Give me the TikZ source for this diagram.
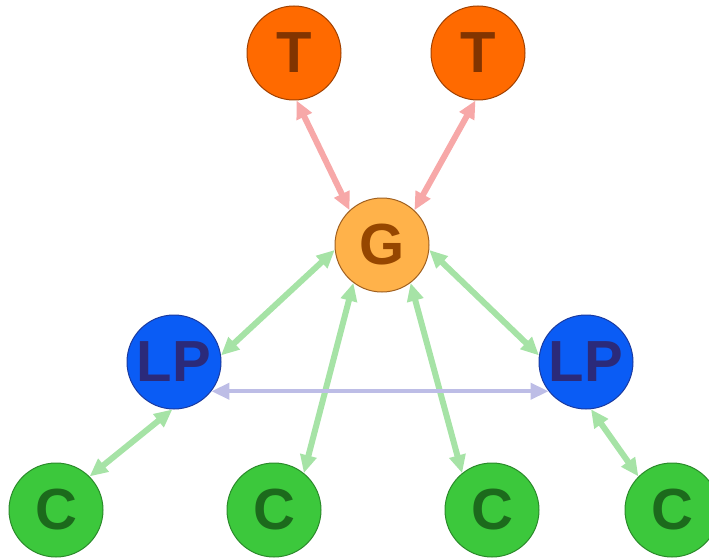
\documentclass[tikz,border=0pt]{standalone}
\usepackage{fontspec}
\setmainfont{Liberation Sans}
\usetikzlibrary{arrows.meta}
\definecolor{torange}{RGB}{255,106,0}
\definecolor{tborder}{RGB}{160,64,0}
\definecolor{ttext}{RGB}{130,52,0}
\definecolor{gorange}{RGB}{255,178,74}
\definecolor{gborder}{RGB}{160,96,32}
\definecolor{gtext}{RGB}{150,70,0}
\definecolor{lpblue}{RGB}{10,92,245}
\definecolor{lpborder}{RGB}{26,58,160}
\definecolor{lptext}{RGB}{43,42,122}
\definecolor{cgreen}{RGB}{60,200,60}
\definecolor{cborder}{RGB}{42,138,42}
\definecolor{ctext}{RGB}{28,106,28}
\definecolor{pinkarr}{RGB}{247,168,168}
\definecolor{greenarr}{RGB}{166,227,166}
\definecolor{lavarr}{RGB}{189,189,230}
\tikzset{
  peer/.style={circle,draw,line width=1pt,minimum size=94pt,inner sep=0pt,
    font=\fontsize{58}{60}\selectfont\bfseries},
  tnode/.style={peer,fill=torange,draw=tborder,text=ttext},
  gnode/.style={peer,fill=gorange,draw=gborder,text=gtext},
  lpnode/.style={peer,fill=lpblue,draw=lpborder,text=lptext},
  cnode/.style={peer,fill=cgreen,draw=cborder,text=ctext},
  link/.style={<->,line width=6pt},
}
\begin{document}
\begin{tikzpicture}[line cap=round,line join=round,>={Triangle[length=18pt,width=16pt]},x=1pt,y=-1pt]
  \useasboundingbox (0,0) rectangle (709,559);
  % nodes
  \node[tnode] (t1) at (294,53) {T};
  \node[tnode] (t2) at (478,53) {T};
  \node[gnode] (g) at (382,245) {G};
  \node[lpnode] (lpl) at (174,362) {LP};
  \node[lpnode] (lpr) at (586,362) {LP};
  \node[cnode] (c1) at (56,510) {C};
  \node[cnode] (c2) at (274,510) {C};
  \node[cnode] (c3) at (492,510) {C};
  \node[cnode] (c4) at (672,510) {C};
  % links
  \draw[link,pinkarr] (t1.-87) -- (g.133);
  \draw[link,pinkarr] (t2.-93) -- (g.47);
  \draw[link,greenarr] (g.186) -- (lpl.8);
  \draw[link,greenarr] (g.-6) -- (lpr.172);
  \draw[link,greenarr] (g.233) -- (c2.51);
  \draw[link,greenarr] (g.-53) -- (c3.129);
  \draw[link,greenarr] (lpl.-92) -- (c1.45);
  \draw[link,greenarr] (lpr.-84) -- (c4.135);
  \draw[link,lavarr,line width=4pt] (lpl.-38) -- (lpr.218);
\end{tikzpicture}
\end{document}
